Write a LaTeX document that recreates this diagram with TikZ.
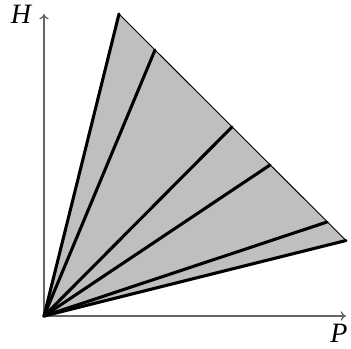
\documentclass[tikz,border=0pt]{standalone}
\usepackage{fontspec}
\setmainfont{Liberation Serif}
\usetikzlibrary{arrows.meta}
\begin{document}
\begin{tikzpicture}[x=0.75pt,y=-0.75pt,
  axis/.style={draw=gray!80!black,line width=1pt,-{To[length=4pt,width=7pt]}},
  ray/.style={draw=black,line width=2.3pt,line cap=round},
  lbl/.style={font=\fontsize{21}{23}\selectfont\itshape,inner sep=0pt}]
\useasboundingbox (0,0) rectangle (351,349);
\coordinate (O) at (44,316);
\coordinate (T) at (119,14);
\coordinate (R) at (346,240.5);
\coordinate (A) at (155,50);
\coordinate (B) at (232,127);
\coordinate (C) at (270,165);
\coordinate (D) at (327,222);
\coordinate (Htip) at (44,14);
\coordinate (Ptip) at (346,316);
\fill[gray!50] (O) -- (T) -- (R) -- cycle;
\draw[axis] (O) -- (Htip);
\draw[axis] (O) -- (Ptip);
\draw[black,line width=0.7pt] (T) -- (R);
\foreach \p in {T,A,B,C,D,R} \draw[ray] (O) -- (\p);
\node[lbl] (H) at (21,14) {H};
\node[lbl] (P) at (339,333) {P};
\end{tikzpicture}
\end{document}
